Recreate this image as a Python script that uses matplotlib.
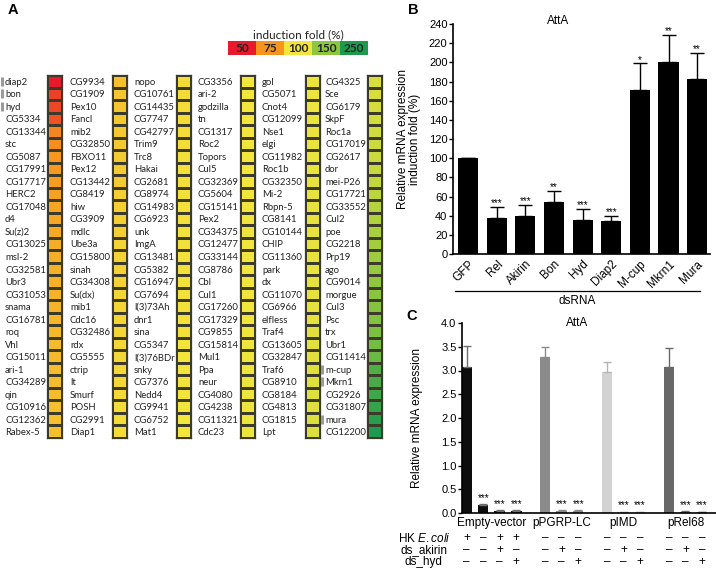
import numpy as np
import matplotlib
matplotlib.use('Agg')
import matplotlib.pyplot as plt
from matplotlib.colors import LinearSegmentedColormap, Normalize
import matplotlib.transforms as mtransforms

plt.rcParams['font.family'] = ['Liberation Sans', 'DejaVu Sans']
plt.rcParams['mathtext.fontset'] = 'custom'
plt.rcParams['mathtext.it'] = 'Liberation Sans:italic'
plt.rcParams['mathtext.rm'] = 'Liberation Sans'

# ---------------- Panel A data ----------------
genes_c1 = ['diap2', 'bon', 'hyd', 'CG5334', 'CG13344', 'stc', 'CG5087', 'CG17991', 'CG17717', 'HERC2',
            'CG17048', 'd4', 'Su(z)2', 'CG13025', 'msl-2', 'CG32581', 'Ubr3', 'CG31053', 'snama', 'CG16781',
            'roq', 'Vhl', 'CG15011', 'ari-1', 'CG34289', 'qin', 'CG10916', 'CG12362', 'Rabex-5']
vals_c1 = [50, 58, 60, 62, 72, 74, 76, 77, 78, 79, 80, 81, 82, 83, 83, 84, 84, 85, 85, 86,
           86, 87, 87, 88, 88, 88, 89, 89, 89]
genes_c2 = ['CG9934', 'CG1909', 'Pex10', 'Fancl', 'mib2', 'CG32850', 'FBXO11', 'Pex12', 'CG13442', 'CG8419',
            'hiw', 'CG3909', 'mdlc', 'Ube3a', 'CG15800', 'sinah', 'CG34308', 'Su(dx)', 'mib1', 'Cdc16',
            'CG32486', 'rdx', 'CG5555', 'ctrip', 'lt', 'Smurf', 'POSH', 'CG2991', 'Diap1']
vals_c2 = [89, 90, 90, 91, 91, 91, 92, 92, 92, 93, 93, 93, 93, 94, 94, 94, 94, 95, 95, 95,
           95, 96, 96, 96, 96, 96, 97, 97, 97]
genes_c3 = ['nopo', 'CG10761', 'CG14435', 'CG7747', 'CG42797', 'Trim9', 'Trc8', 'Hakai', 'CG2681', 'CG8974',
            'CG14983', 'CG6923', 'unk', 'ImgA', 'CG13481', 'CG5382', 'CG16947', 'CG7694', 'l(3)73Ah', 'dnr1',
            'sina', 'CG5347', 'l(3)76BDr', 'snky', 'CG7376', 'Nedd4', 'CG9941', 'CG6752', 'Mat1']
vals_c3 = [97, 97, 97, 97.5, 97.5, 97.5, 98, 98, 98, 98, 98, 98.5, 98.5, 98.5, 98.5, 99, 99, 99, 99, 99,
           99, 99.5, 99.5, 99.5, 99.5, 99.5, 99.5, 100, 100]
genes_c4 = ['CG3356', 'ari-2', 'godzilla', 'tn', 'CG1317', 'Roc2', 'Topors', 'Cul5', 'CG32369', 'CG5604',
            'CG15141', 'Pex2', 'CG34375', 'CG12477', 'CG33144', 'CG8786', 'Cbl', 'Cul1', 'CG17260', 'CG17329',
            'CG9855', 'CG15814', 'Mul1', 'Ppa', 'neur', 'CG4080', 'CG4238', 'CG11321', 'Cdc23']
vals_c4 = [100, 100, 100, 100, 100, 100.5, 100.5, 100.5, 100.5, 100.5, 101, 101, 101, 101, 101, 101, 101.5,
           101.5, 101.5, 101.5, 101.5, 102, 102, 102, 102, 102, 102.5, 102.5, 103]
genes_c5 = ['gol', 'CG5071', 'Cnot4', 'CG12099', 'Nse1', 'elgi', 'CG11982', 'Roc1b', 'CG32350', 'Mi-2',
            'Rbpn-5', 'CG8141', 'CG10144', 'CHIP', 'CG11360', 'park', 'dx', 'CG11070', 'CG6966', 'elfless',
            'Traf4', 'CG13605', 'CG32847', 'Traf6', 'CG8910', 'CG8184', 'CG4813', 'CG1815', 'Lpt']
vals_c5 = [103, 103, 103, 104, 104, 104, 104, 104, 105, 105, 105, 105, 106, 106, 106, 106, 107, 107, 107, 107,
           108, 108, 108, 109, 109, 110, 110, 111, 111]
genes_c6 = ['CG4325', 'Sce', 'CG6179', 'SkpF', 'Roc1a', 'CG17019', 'CG2617', 'dor', 'mei-P26', 'CG17721',
            'CG33552', 'Cul2', 'poe', 'CG2218', 'Prp19', 'ago', 'CG9014', 'morgue', 'Cul3', 'Psc',
            'trx', 'Ubr1', 'CG11414', 'm-cup', 'Mkrn1', 'CG2926', 'CG31807', 'mura', 'CG12200']
vals_c6 = [113, 114, 115, 116, 117, 118, 120, 122, 124, 127, 130, 133, 136, 139, 142, 145, 148, 152, 156, 160,
           165, 172, 180, 205, 212, 220, 230, 240, 255]
marked_genes = ['diap2', 'bon', 'hyd', 'm-cup', 'Mkrn1', 'mura']

legend_values = [50, 75, 100, 150, 250]
legend_labels = ['50', '75', '100', '150', '250']

# ---------------- Panel B data ----------------
b_labels = ['GFP', 'Rel', 'Akirin', 'Bon', 'Hyd', 'Diap2', 'M-cup', 'Mkrn1', 'Mura']
b_values = [100, 38, 40, 54, 35, 34, 171, 200, 183]
b_errors = [0, 11, 11, 12, 12, 6, 28, 29, 27]
b_stars = ['', '***', '***', '**', '***', '***', '*', '**', '**']

# ---------------- Panel C data ----------------
c_groups = ['Empty-vector', 'pPGRP-LC', 'pIMD', 'pRel68']
c_values = [[3.08, 0.17, 0.05, 0.05], [3.29, 0.05, 0.05], [2.97, 0.02, 0.02], [3.07, 0.03, 0.02]]
c_errors = [[0.44, 0.02, 0.01, 0.01], [0.21, 0.01, 0.01], [0.21, 0.005, 0.005], [0.41, 0.01, 0.005]]
c_stars = [['', '***', '***', '***'], ['', '***', '***'], ['', '***', '***'], ['', '***', '***']]
c_hk = [['+', '-', '+', '+'], ['-', '-', '-'], ['-', '-', '-'], ['-', '-', '-']]
c_akirin = [['-', '-', '+', '-'], ['-', '+', '-'], ['-', '+', '-'], ['-', '+', '-']]
c_hyd = [['-', '-', '-', '+'], ['-', '-', '+'], ['-', '-', '+'], ['-', '-', '+']]
c_row_labels = ['HK $\\mathit{E.coli}$', 'ds_akirin', 'ds_hyd']
c_colors = ['#0d0d0d', '#8b8b8b', '#d2d2d2', '#686868']
c_err_colors = ['#6e6e6e', '#8b8b8b', '#b4b4b4', '#686868']

# ---------------- Figure ----------------
W, H = 716, 570
fig = plt.figure(figsize=(W / 100, H / 100), dpi=100)


def px_axes(x0, y0, x1, y1):
    return fig.add_axes([x0 / W, 1 - y1 / H, (x1 - x0) / W, (y1 - y0) / H])


cmap = LinearSegmentedColormap.from_list(
    'ind', [(0.0, '#e8192c'), (0.125, '#f7941e'), (0.25, '#f2e63c'), (0.5, '#8dc63f'), (1.0, '#1e9a4e')])
norm = Normalize(vmin=50, vmax=250)

# Panel A
cols_genes = [genes_c1, genes_c2, genes_c3, genes_c4, genes_c5, genes_c6]
cols_vals = [vals_c1, vals_c2, vals_c3, vals_c4, vals_c5, vals_c6]
cell_x = [47, 112, 176, 240, 305, 367]
label_x = [5, 70, 134, 198, 262, 325]
edge_c = '#3c3a2a'
for c in range(6):
    ax = px_axes(cell_x[c], 75, cell_x[c] + 15, 438)
    v = np.array(cols_vals[c], dtype=float).reshape(-1, 1)
    ax.pcolormesh(v, cmap=cmap, norm=norm, edgecolors=edge_c, linewidth=0.8)
    ax.set_ylim(len(v), 0)
    ax.set_xlim(0, 1)
    ax.set_xticks([])
    ax.set_yticks(np.arange(len(v)) + 0.5)
    ax.set_yticklabels(cols_genes[c], fontsize=6.8, family='Lato', color='#222222')
    ax.tick_params(axis='y', length=0, pad=(cell_x[c] - label_x[c]) * 0.72)
    for t in ax.get_yticklabels():
        t.set_horizontalalignment('left')
    for s in ax.spines.values():
        s.set_linewidth(0.9)
        s.set_color(edge_c)
    tr = mtransforms.blended_transform_factory(ax.transAxes, ax.transData)
    xf = (label_x[c] - 3 - cell_x[c]) / 15
    for i, g in enumerate(cols_genes[c]):
        if g in marked_genes:
            ax.plot([xf, xf], [i + 0.15, i + 0.85], transform=tr, color='#9a9a9a', lw=2.2,
                    clip_on=False, solid_capstyle='butt')

# Legend
axL = px_axes(228, 41, 368, 55)
axL.pcolormesh(np.array(legend_values, dtype=float).reshape(1, -1), cmap=cmap, norm=norm)
for i, lab in enumerate(legend_labels):
    axL.text(i + 0.5, 0.5, lab, ha='center', va='center', fontsize=8.5, fontweight='bold',
             family='Lato', color='#222222')
axL.set_xticks([])
axL.set_yticks([])
for s in axL.spines.values():
    s.set_visible(False)
axL.set_title('induction fold (%)', fontsize=8.5, family='Lato', pad=2, color='#222222')

fig.text(13 / W, 1 - 10 / H, 'A', fontsize=10.5, fontweight='bold', ha='center', va='center')
fig.text(413 / W, 1 - 10 / H, 'B', fontsize=10.5, fontweight='bold', ha='center', va='center')
fig.text(412 / W, 1 - 316 / H, 'C', fontsize=10.5, fontweight='bold', ha='center', va='center')

# Panel B
axB = px_axes(453, 24, 710, 254)
xb = np.arange(len(b_labels))
axB.bar(xb, b_values, width=0.7, color='black')
axB.errorbar(xb, b_values, yerr=[np.zeros(len(xb)), b_errors], fmt='none', ecolor='black',
             elinewidth=1, capsize=5, capthick=1)
for i, s in enumerate(b_stars):
    if s:
        axB.annotate(s, (xb[i], b_values[i] + b_errors[i]), xytext=(0, -1), textcoords='offset points',
                     ha='center', va='bottom', fontsize=7)
axB.set_xlim(-0.53, 8.45)
axB.set_ylim(0, 240)
axB.set_yticks(np.arange(0, 241, 20))
axB.tick_params(axis='y', labelsize=8, length=3, width=1, pad=1)
axB.tick_params(axis='x', length=0, pad=3)
axB.set_xticks(xb)
axB.set_xticklabels(b_labels, rotation=45, ha='right', va='top', rotation_mode='anchor', fontsize=8.5)
for s in ['top', 'right']:
    axB.spines[s].set_visible(False)
for s in ['left', 'bottom']:
    axB.spines[s].set_linewidth(1.2)
axB.set_ylabel('Relative mRNA expression\ninduction fold (%)', fontsize=8.5, linespacing=0.95)
axB.yaxis.set_label_coords((421 - 453) / 257, 0.5)
axB.text(0.41, 1.013, 'AttA', transform=axB.transAxes, ha='center', va='center', fontsize=8.5)
trB = mtransforms.blended_transform_factory(axB.transData, axB.transAxes)
axB.plot([-0.45, 8.1], [-0.161, -0.161], transform=trB, color='black', lw=0.9, clip_on=False)
axB.text(3.82, -0.205, 'dsRNA', transform=trB, ha='center', va='center', fontsize=8.5)

# Panel C
axC = px_axes(462, 323, 716, 513)
pos = []
start = 0.0
for gi, vals in enumerate(c_values):
    p = start + np.arange(len(vals))
    pos.append(p)
    start = p[-1] + 1.75
all_centers = []
for gi, vals in enumerate(c_values):
    p = pos[gi]
    axC.bar(p, vals, width=0.64, color=c_colors[gi])
    axC.errorbar(p, vals, yerr=[np.zeros(len(vals)), c_errors[gi]], fmt='none', ecolor=c_err_colors[gi],
                 elinewidth=1, capsize=3, capthick=1)
    for j, s in enumerate(c_stars[gi]):
        if s:
            axC.annotate(s, (p[j], vals[j] + c_errors[gi][j]), xytext=(0, 1), textcoords='offset points',
                         ha='center', va='bottom', fontsize=7)
    all_centers.append((p[0] + p[-1]) / 2)
axC.set_xlim(-0.285, 15.1)
axC.set_ylim(0, 4.0)
axC.set_yticks(np.arange(0, 4.01, 0.5))
axC.set_yticklabels(['%.1f' % t for t in np.arange(0, 4.01, 0.5)])
axC.tick_params(axis='y', labelsize=8, length=3, width=1, pad=1)
axC.set_xticks(all_centers)
axC.set_xticklabels(c_groups, fontsize=8.5)
axC.tick_params(axis='x', length=0, pad=3)
for s in ['top', 'right']:
    axC.spines[s].set_visible(False)
for s in ['left', 'bottom']:
    axC.spines[s].set_linewidth(1.2)
axC.set_ylabel('Relative mRNA expression', fontsize=8.5)
axC.yaxis.set_label_coords((423 - 462) / 254, 0.5)
axC.text(0.453, 1.0, 'AttA', transform=axC.transAxes, ha='center', va='center', fontsize=8.5)
trC = mtransforms.blended_transform_factory(axC.transData, axC.transAxes)
row_y = [-0.1316, -0.1947, -0.258]
for r, table in enumerate([c_hk, c_akirin, c_hyd]):
    axC.text(-2.6, row_y[r], c_row_labels[r], transform=trC, ha='center', va='center', fontsize=8.5,
             clip_on=False)
    for gi in range(len(c_values)):
        for j, sym in enumerate(table[gi]):
            axC.text(pos[gi][j], row_y[r], sym if sym == '+' else '\u2013', transform=trC, ha='center',
                     va='center', fontsize=8.5, clip_on=False)

fig.savefig('out.png', dpi=100)
